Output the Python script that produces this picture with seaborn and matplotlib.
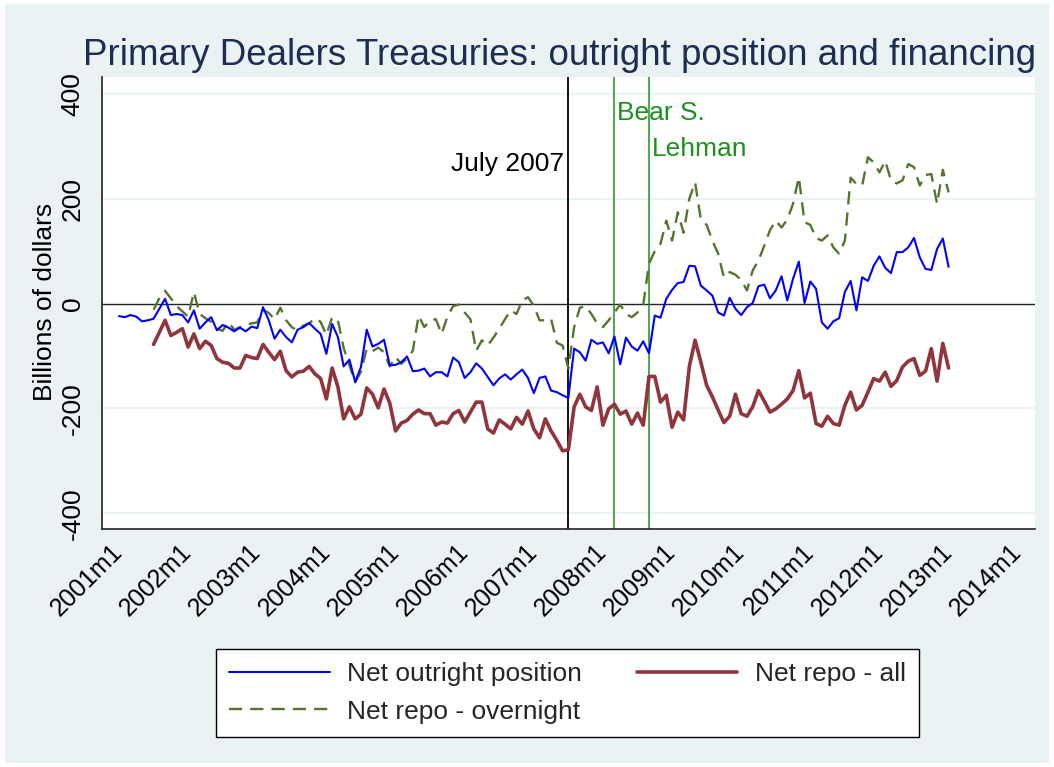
import matplotlib
matplotlib.use("Agg")
import matplotlib.pyplot as plt
import numpy as np
import pandas as pd
import seaborn as sns
from matplotlib.patches import Rectangle
from matplotlib.lines import Line2D

# ---------------- data (billions of dollars, monthly) ----------------
outright_start = "2001m1"
net_outright = [
    -24, -26, -22, -25, -34, -32, -29, -10, 9, -22, -20, -22,          # 2001
    -36, -13, -48, -36, -26, -51, -41, -46, -53, -46, -53, -44,        # 2002
    -47, -7, -32, -67, -50, -64, -74, -50, -45, -37, -48, -58,         # 2003
    -96, -39, -64, -120, -107, -150, -121, -50, -82, -77, -69, -118,   # 2004
    -117, -112, -101, -129, -128, -124, -139, -131, -131, -139, -103, -112,  # 2005
    -142, -131, -114, -124, -140, -156, -143, -135, -145, -135, -126, -142,  # 2006
    -171, -142, -139, -166, -169, -175, -180, -86, -93, -109, -69, -77,      # 2007
    -74, -95, -63, -116, -65, -82, -90, -72, -95, -23, -27, 9,               # 2008
    26, 39, 41, 72, 71, 34, 25, 15, -17, -23, 11, -10,                       # 2009
    -22, -7, 1, 33, 36, 10, 25, 52, 6, 47, 80, 1,                            # 2010
    42, 28, -36, -48, -34, -28, 22, 43, -13, 50, 43, 72,                     # 2011
    90, 68, 58, 98, 98, 107, 125, 88, 66, 64, 104, 124,                      # 2012
    70,                                                                      # 2013m1
]

repo_start = "2001m7"
net_repo_all = [
    -78, -55, -32, -61, -55, -48,                                            # 2001m7-12
    -83, -58, -86, -72, -80, -105, -112, -114, -123, -123, -99, -103,        # 2002
    -105, -78, -93, -107, -91, -128, -140, -131, -129, -120, -134, -143,     # 2003
    -182, -123, -159, -220, -197, -220, -211, -161, -173, -199, -163, -190,  # 2004
    -243, -228, -223, -211, -203, -210, -210, -232, -226, -228, -210, -204,  # 2005
    -226, -207, -188, -188, -239, -247, -222, -230, -239, -217, -230, -205,  # 2006
    -239, -256, -220, -243, -261, -281, -279, -197, -173, -197, -204, -159,  # 2007
    -232, -201, -192, -211, -205, -230, -209, -232, -139, -139, -188, -175,  # 2008
    -236, -207, -222, -120, -70, -112, -156, -178, -203, -227, -215, -173,   # 2009
    -210, -215, -197, -166, -186, -207, -201, -192, -182, -166, -128, -180,  # 2010
    -171, -229, -234, -215, -229, -232, -194, -169, -203, -194, -169, -143,  # 2011
    -148, -131, -158, -147, -121, -110, -105, -137, -129, -86, -148, -76,    # 2012
    -123,                                                                    # 2013m1
]

net_repo_overnight = [
    -12, 10, 24, 10, -5, -15,                                                # 2001m7-12
    -25, 22, -20, -28, -35, -48, -52, -35, -50, -45, -40, -38,               # 2002
    -36, -12, -18, -30, -8, -32, -45, -52, -42, -38, -28, -35,               # 2003
    -60, -26, -32, -85, -118, -150, -130, -86, -91, -84, -93, -120,          # 2004
    -102, -115, -105, -90, -23, -45, -32, -30, -58, -25, -5, -2,             # 2005
    -17, -30, -90, -70, -80, -65, -48, -30, -13, -20, 6, 12,                 # 2006
    -4, -32, -32, -29, -75, -80, -124, -45, -8, -5, -20, -38,                # 2007
    -45, -32, -17, -2, -20, -26, -17, -2, 76, 100, 114, 158,                 # 2008
    120, 174, 135, 200, 231, 160, 150, 120, 95, 50, 60, 55,                  # 2009
    45, 25, 63, 82, 110, 140, 158, 145, 160, 190, 241, 155,                  # 2010
    150, 125, 120, 130, 107, 95, 120, 240, 228, 225, 279, 269,               # 2011
    250, 272, 235, 229, 235, 266, 260, 225, 245, 247, 190, 255,              # 2012
    212,                                                                     # 2013m1
]

series_names = ["Net outright position", "Net repo - all", "Net repo - overnight"]
tick_labels = ["2001m1", "2002m1", "2003m1", "2004m1", "2005m1", "2006m1", "2007m1",
               "2008m1", "2009m1", "2010m1", "2011m1", "2012m1", "2013m1", "2014m1"]
y_ticks = [-400, -200, 0, 200, 400]
event_labels = ["July 2007", "Bear S.", "Lehman"]
event_months = ["2007m7", "2008m3", "2008m9"]

# ---------------- helpers ----------------
def month_index(s):
    y, m = s.split("m")
    return (int(y) - 2001) * 12 + int(m) - 1

def make_frame(start, values):
    i0 = month_index(start)
    return pd.DataFrame({"t": np.arange(i0, i0 + len(values)), "v": values})

df_out = make_frame(outright_start, net_outright)
df_all = make_frame(repo_start, net_repo_all)
df_ovn = make_frame(repo_start, net_repo_overnight)

# ---------------- style ----------------
sns.set_style("white")
plt.rcParams["font.family"] = ["Liberation Sans", "DejaVu Sans"]

BG = "#EAF2F3"
BLUE = "#0000FF"
MAROON = "#90353B"
FOREST = "#55752F"
EVGREEN = "#1F8F1F"

W, H = 1054, 767
fig = plt.figure(figsize=(W / 100, H / 100), dpi=100, facecolor="white")
fig.patches.append(Rectangle((5 / W, 4 / H), (W - 10) / W, (H - 8) / H,
                             transform=fig.transFigure, facecolor=BG,
                             edgecolor="none", zorder=-10))

L, R, T, B = 102, 1035, 77, 529
ax = fig.add_axes([L / W, 1 - B / H, (R - L) / W, (B - T) / H])
ax.set_facecolor("white")

# grid lines
for yv in y_ticks:
    if yv != 0:
        ax.axhline(yv, color=BG, lw=1.6, zorder=1)
ax.axhline(0, color="#222222", lw=1.0, zorder=2)

# event lines
ev_idx = [month_index(m) for m in event_months]
ax.axvline(ev_idx[0], color="black", lw=1.3, zorder=2)
ax.axvline(ev_idx[1], color=EVGREEN, lw=1.1, zorder=2)
ax.axvline(ev_idx[2], color=EVGREEN, lw=1.1, zorder=2)

# series
sns.lineplot(data=df_out, x="t", y="v", ax=ax, color=BLUE, lw=1.5, zorder=4)
sns.lineplot(data=df_all, x="t", y="v", ax=ax, color=MAROON, lw=2.6, zorder=3)
sns.lineplot(data=df_ovn, x="t", y="v", ax=ax, color=FOREST, lw=1.7,
             linestyle=(0, (5.6, 3.4)), zorder=3)

# event annotations
ax.text(ev_idx[0] - 0.7, 267, event_labels[0], ha="right", va="center",
        fontsize=19, color="black")
ax.text(ev_idx[1] + 0.5, 364, event_labels[1], ha="left", va="center",
        fontsize=19, color=EVGREEN)
ax.text(ev_idx[2] + 0.5, 295, event_labels[2], ha="left", va="center",
        fontsize=19, color=EVGREEN)

# axes
ax.set_xlim(-2.95, 159.0)
ax.set_ylim(-430, 432)
ax.set_xticks([12 * i for i in range(len(tick_labels))])
ax.set_xticklabels(tick_labels, rotation=45, ha="right", va="center",
                   rotation_mode="anchor", fontsize=18)
ax.set_yticks(y_ticks)
ax.set_yticklabels([str(v) for v in y_ticks], rotation=90, va="center",
                   fontsize=19)
ax.tick_params(axis="both", direction="out", length=7, width=1.0,
               color="#333333", labelcolor="black")
ax.tick_params(axis="y", pad=5.5)
ax.tick_params(axis="x", pad=7)
ax.set_xlabel("")
ax.set_ylabel("")
for s in ["top", "right"]:
    ax.spines[s].set_visible(False)
for s in ["left", "bottom"]:
    ax.spines[s].set_color("#222222")
    ax.spines[s].set_linewidth(1.2)

fig.text(45 / W, 1 - 302 / H, "Billions of dollars", rotation=90,
         ha="center", va="center", fontsize=19, color="black")

fig.text(560 / W, 1 - 65 / H,
         "Primary Dealers Treasuries: outright position and financing",
         ha="center", va="baseline", fontsize=26.5, color="#1E2D53")

# legend
handles = [
    Line2D([], [], color=BLUE, lw=1.5),
    Line2D([], [], color=FOREST, lw=1.7, linestyle=(0, (5.6, 3.4))),
    Line2D([], [], color=MAROON, lw=2.6),
]
labels = [series_names[0], series_names[2], series_names[1]]
leg = fig.legend(handles, labels, ncol=2, loc="center",
                 bbox_to_anchor=(567.5 / W, 1 - 693 / H), fontsize=19,
                 frameon=True, fancybox=False, edgecolor="black",
                 facecolor="white", framealpha=1, handlelength=3.8,
                 handletextpad=0.65, columnspacing=2.1, labelspacing=0.5,
                 borderpad=0.5, borderaxespad=0)
leg.get_frame().set_linewidth(1.0)

fig.savefig("out.png", dpi=100, facecolor=fig.get_facecolor())
